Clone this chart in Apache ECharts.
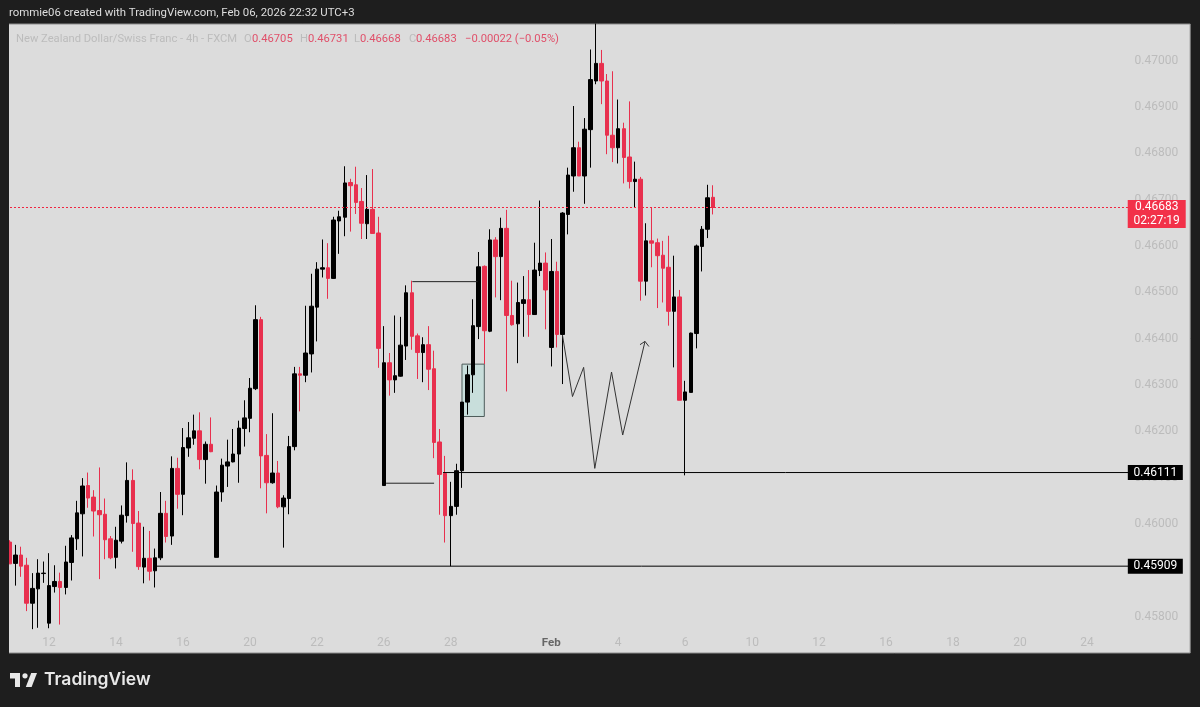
<!DOCTYPE html>
<html>
<head>
<meta charset="utf-8">
<title>NZD/CHF 4h</title>
<script src="https://cdn.jsdelivr.net/npm/echarts@6/dist/echarts.min.js"></script>
<style>
  html, body { margin: 0; padding: 0; background: #1e1e1e; }
  #chart { width: 1200px; height: 707px; }
</style>
</head>
<body>
<div id="chart"></div>
<script>
// candles (black = up, red = down)
const opens = [
  0.45961,0.45915,0.45933,0.45911,0.45829,0.45860,0.45893,0.45786,0.45865,0.45876,0.45863,0.45917,0.45968,0.46022,0.46083,0.46058,
  0.46029,0.46021,0.45968,0.45928,0.45963,0.46018,0.46094,0.46002,0.45907,0.45926,0.45899,0.45927,0.46023,0.45974,0.46120,0.46064,
  0.46164,0.46185,0.46201,0.46139,0.46172,0.45928,0.46069,0.46125,0.46134,0.46151,0.46206,0.46228,0.46292,0.46441,0.46148,0.46089,
  0.46110,0.46037,0.46055,0.46167,0.46324,0.46321,0.46367,0.46468,0.46550,0.46553,0.46530,0.46654,0.46662,0.46737,0.46732,0.46696,
  0.46648,0.46679,0.46628,0.46083,0.46348,0.46311,0.46319,0.46384,0.46499,0.46406,0.46370,0.46387,0.46335,0.46177,0.46109,0.46018,
  0.46038,0.46115,0.46263,0.46322,0.46426,0.46556,0.46416,0.46613,0.46577,0.46638,0.46450,0.46432,0.46476,0.46484,0.46452,0.46547,
  0.46563,0.46381,0.46545,0.46409,0.46668,0.46751,0.46812,0.46751,0.46851,0.46956,0.46994,0.46956,0.46839,0.46812,0.46853,0.46792,
  0.46739,0.46744,0.46524,0.46611,0.46607,0.46580,0.46554,0.46459,0.46490,0.46267,0.46284,0.46411,0.46599,0.46636,0.46705
];
const highs = [
  0.45965,0.45955,0.45951,0.45927,0.45894,0.45924,0.45919,0.45937,0.45911,0.45895,0.45953,0.45976,0.46050,0.46099,0.46111,0.46073,
  0.46122,0.46055,0.45974,0.45994,0.46040,0.46133,0.46118,0.46028,0.45994,0.45985,0.45947,0.46069,0.46050,0.46146,0.46143,0.46207,
  0.46220,0.46236,0.46241,0.46178,0.46230,0.46083,0.46141,0.46182,0.46205,0.46223,0.46267,0.46315,0.46472,0.46447,0.46194,0.46239,
  0.46136,0.46062,0.46190,0.46339,0.46339,0.46471,0.46540,0.46565,0.46614,0.46606,0.46663,0.46676,0.46772,0.46745,0.46771,0.46725,
  0.46753,0.46766,0.46663,0.46427,0.46369,0.46450,0.46447,0.46515,0.46525,0.46411,0.46403,0.46427,0.46374,0.46205,0.46147,0.46091,
  0.46130,0.46263,0.46342,0.46485,0.46587,0.46558,0.46636,0.46619,0.46661,0.46678,0.46525,0.46521,0.46535,0.46548,0.46607,0.46698,
  0.46586,0.46615,0.46566,0.46673,0.46769,0.46902,0.46825,0.46876,0.47024,0.47080,0.47023,0.46971,0.46977,0.46916,0.46866,0.46912,
  0.46782,0.46749,0.46649,0.46683,0.46616,0.46611,0.46622,0.46579,0.46505,0.46309,0.46413,0.46603,0.46643,0.46732,0.46731
];
const lows = [
  0.45914,0.45867,0.45886,0.45812,0.45773,0.45776,0.45873,0.45775,0.45852,0.45783,0.45848,0.45878,0.45944,0.45930,0.46035,0.45973,
  0.45881,0.45924,0.45924,0.45904,0.45958,0.46003,0.45940,0.45901,0.45872,0.45878,0.45863,0.45922,0.45960,0.45955,0.46033,0.46019,
  0.46145,0.46171,0.46118,0.46087,0.46155,0.45928,0.46048,0.46080,0.46133,0.46089,0.46167,0.46198,0.46289,0.46077,0.46023,0.46087,
  0.46034,0.45949,0.46021,0.46159,0.46243,0.46306,0.46327,0.46394,0.46532,0.46486,0.46529,0.46583,0.46621,0.46631,0.46669,0.46615,
  0.46615,0.46627,0.46337,0.46083,0.46277,0.46283,0.46318,0.46354,0.46376,0.46313,0.46306,0.46289,0.46142,0.46020,0.45960,0.45909,
  0.46020,0.46078,0.46236,0.46283,0.46399,0.46345,0.46414,0.46489,0.46483,0.46286,0.46428,0.46347,0.46404,0.46404,0.46452,0.46535,
  0.46420,0.46340,0.46381,0.46302,0.46625,0.46717,0.46751,0.46691,0.46769,0.46949,0.46906,0.46798,0.46781,0.46778,0.46735,0.46724,
  0.46684,0.46482,0.46493,0.46554,0.46466,0.46478,0.46428,0.46338,0.46267,0.46105,0.46284,0.46379,0.46545,0.46617,0.46668
];
const closes = [
  0.45914,0.45933,0.45909,0.45829,0.45861,0.45894,0.45894,0.45867,0.45876,0.45863,0.45918,0.45970,0.46024,0.46082,0.46056,0.46028,
  0.46020,0.45966,0.45927,0.45965,0.46019,0.46094,0.46001,0.45908,0.45926,0.45898,0.45927,0.46023,0.45973,0.46120,0.46064,0.46165,
  0.46186,0.46201,0.46139,0.46172,0.46156,0.46069,0.46127,0.46134,0.46151,0.46207,0.46229,0.46293,0.46441,0.46147,0.46089,0.46110,
  0.46037,0.46056,0.46167,0.46324,0.46321,0.46369,0.46470,0.46550,0.46553,0.46530,0.46656,0.46663,0.46736,0.46730,0.46694,0.46649,
  0.46679,0.46627,0.46379,0.46348,0.46311,0.46320,0.46386,0.46499,0.46405,0.46370,0.46387,0.46334,0.46176,0.46107,0.46018,0.46038,
  0.46115,0.46263,0.46322,0.46428,0.46555,0.46417,0.46613,0.46577,0.46638,0.46450,0.46430,0.46478,0.46484,0.46452,0.46548,0.46563,
  0.46505,0.46545,0.46409,0.46671,0.46753,0.46812,0.46751,0.46852,0.46959,0.46994,0.46956,0.46839,0.46812,0.46853,0.46791,0.46739,
  0.46744,0.46524,0.46611,0.46606,0.46579,0.46552,0.46459,0.46490,0.46267,0.46285,0.46412,0.46600,0.46636,0.46704,0.46683
];

// time axis
const barCount = 212;
const tickIndex = [7, 19, 31, 43, 55, 67, 79, 97, 109, 121, 133, 145, 157, 169, 181, 193];
const tickLabels = ['12', '14', '16', '20', '22', '26', '28', 'Feb', '4', '6', '10', '12', '16', '18', '20', '24'];
const priceTicks = [0.458, 0.459, 0.46, 0.461, 0.462, 0.463, 0.464, 0.465, 0.466, 0.467, 0.468, 0.469, 0.47];

// hand drawings, x in bars, y in price
const levelHighX = [77.6, 200.4];
const levelHighP = [0.46111, 0.46111];
const levelLowX = [26, 200.4];
const levelLowP = [0.45909, 0.45909];
const topStepX = [72.1, 83.8];
const topStepP = [0.46523, 0.46523];
const baseStepX = [67.4, 76];
const baseStepP = [0.46088, 0.46088];
const zigzagX = [99, 100.8, 102.8, 104.8, 107.8, 109.8, 113.8];
const zigzagP = [0.46408, 0.46275, 0.46338, 0.46120, 0.46328, 0.46192, 0.46394];
const arrowX = [112.9, 113.8, 114.5];
const arrowP = [0.46387, 0.46394, 0.46383];
const boxX = [81, 85];
const boxP = [0.46345, 0.46232];
const lastPrice = 0.46683;

const RED = '#e8304e';
const FAINT = '#bcbcbc';
const FONT = 'Roboto, "Liberation Sans", sans-serif';

const categories = Array.from({ length: barCount }, () => '');
tickIndex.forEach((idx, k) => { categories[idx] = tickLabels[k]; });

const candles = opens.map((o, i) => [o, closes[i], lows[i], highs[i]]);

function drawing(xs, ps, color, width, dash) {
    return {
        type: 'line',
        xAxisIndex: 1,
        data: xs.map((x, i) => [x, ps[i]]),
        showSymbol: false,
        silent: true,
        z: 3,
        lineStyle: { color: color, width: width, type: dash || 'solid' }
    };
}

const legendBits = [
    ['New Zealand Dollar/Swiss Franc - 4h - FXCM', 16, FAINT],
    ['O', 244, FAINT], ['0.46705', 252, '#e0506a'],
    ['H', 300, FAINT], ['0.46731', 308, '#e0506a'],
    ['L', 354, FAINT], ['0.46668', 360, '#e0506a'],
    ['C', 409, FAINT], ['0.46683', 416, '#e0506a'],
    ['\u22120.00022 (\u22120.05%)', 465, '#e0506a']
];

const chart = echarts.init(document.getElementById('chart'));
chart.setOption({
    animation: false,
    backgroundColor: '#1e1e1e',
    grid: {
        show: true, left: 7.2, top: 24, width: 1183, height: 629,
        backgroundColor: '#dcdcdc', borderColor: '#8c8c8c', borderWidth: 1
    },
    xAxis: [
        {
            type: 'category',
            data: categories,
            boundaryGap: true,
            axisLine: { show: false },
            axisTick: { show: false },
            splitLine: { show: false },
            axisLabel: {
                inside: true,
                margin: 4,
                interval: (i) => categories[i] !== '',
                hideOverlap: false,
                color: FAINT,
                fontFamily: FONT,
                fontSize: 12,
                formatter: (v) => (v === 'Feb' ? '{m|Feb}' : v),
                rich: { m: { color: '#666', fontWeight: 'bold', fontFamily: FONT, fontSize: 11.5 } }
            }
        },
        { type: 'value', min: -0.5, max: barCount - 0.5, show: false }
    ],
    yAxis: {
        type: 'value',
        position: 'right',
        min: 0.457216,
        max: 0.47079,
        scale: true,
        axisLine: { show: false },
        axisTick: { show: false },
        splitLine: { show: false },
        axisLabel: {
            inside: true,
            margin: 12,
            customValues: priceTicks,
            color: FAINT,
            fontFamily: FONT,
            fontSize: 12,
            formatter: (v) => v.toFixed(5)
        }
    },
    series: [
        {
            type: 'line',
            xAxisIndex: 1,
            data: [],
            silent: true,
            z: 1,
            markArea: {
                silent: true,
                itemStyle: { color: '#c8dedb', borderColor: '#4d5c5a', borderWidth: 1 },
                data: [[{ coord: [boxX[0], boxP[0]] }, { coord: [boxX[1], boxP[1]] }]]
            }
        },
        {
            type: 'candlestick',
            data: candles,
            barWidth: 4,
            clip: true,
            z: 2,
            itemStyle: {
                color: '#000000', color0: RED,
                borderColor: '#000000', borderColor0: RED,
                borderWidth: 1
            }
        },
        drawing([0, 200.4], [lastPrice, lastPrice], '#f0243f', 1, [2, 2]),
        drawing(levelHighX, levelHighP, '#000', 1),
        drawing(levelLowX, levelLowP, '#000', 1),
        drawing(topStepX, topStepP, '#222', 1),
        drawing(baseStepX, baseStepP, '#222', 1),
        drawing(zigzagX, zigzagP, '#333', 1),
        drawing(arrowX, arrowP, '#333', 1),
        {
            type: 'line',
            xAxisIndex: 1,
            data: [],
            silent: true,
            z: 5,
            markPoint: {
                silent: true,
                symbol: 'rect',
                symbolSize: [55, 15],
                itemStyle: { color: '#000' },
                label: { color: '#fff', fontFamily: FONT, fontSize: 12, position: 'inside' },
                data: [
                    { coord: [205.25, levelHighP[0]], value: '0.46111' },
                    { coord: [205.25, levelLowP[0]], value: '0.45909' },
                    {
                        coord: [205.5, lastPrice],
                        value: '0.46683\n02:27:19',
                        symbol: 'rect',
                        symbolSize: [58, 28],
                        symbolOffset: [0, 6.5],
                        itemStyle: { color: '#f23149' },
                        label: { lineHeight: 14 }
                    }
                ]
            }
        }
    ],
    graphic: [
        { type: 'rect', z: 100, silent: true, shape: { x: 0, y: 0, width: 9, height: 707 }, style: { fill: '#1e1e1e' } },
        {
            type: 'text', z: 100, silent: true,
            style: {
                text: 'rommie06 created with TradingView.com, Feb 06, 2026 22:32 UTC+3',
                x: 9, y: 13, verticalAlign: 'middle', fill: '#dedede', font: '11.4px ' + FONT
            }
        },
        ...legendBits.map((b) => ({
            type: 'text', z: 100, silent: true,
            style: { text: b[0], x: b[1], y: 39, verticalAlign: 'middle', fill: b[2], font: '11.2px ' + FONT }
        })),
        // TradingView mark
        {
            type: 'polygon', z: 100, silent: true,
            shape: { points: [[10, 673], [20, 673], [20, 687], [15, 687], [15, 678.6], [10, 678.6]] },
            style: { fill: '#e8e8e8' }
        },
        {
            type: 'polygon', z: 100, silent: true,
            shape: { points: [[31.6, 687], [25.8, 687], [31.2, 673], [37, 673]] },
            style: { fill: '#e8e8e8' }
        },
        { type: 'circle', z: 100, silent: true, shape: { cx: 25, cy: 675.8, r: 2.6 }, style: { fill: '#e8e8e8' } },
        {
            type: 'text', z: 100, silent: true,
            style: { text: 'TradingView', x: 44, y: 680, verticalAlign: 'middle', fill: '#e8e8e8', font: '600 17.5px Inter, ' + FONT }
        }
    ]
});
</script>
</body>
</html>
